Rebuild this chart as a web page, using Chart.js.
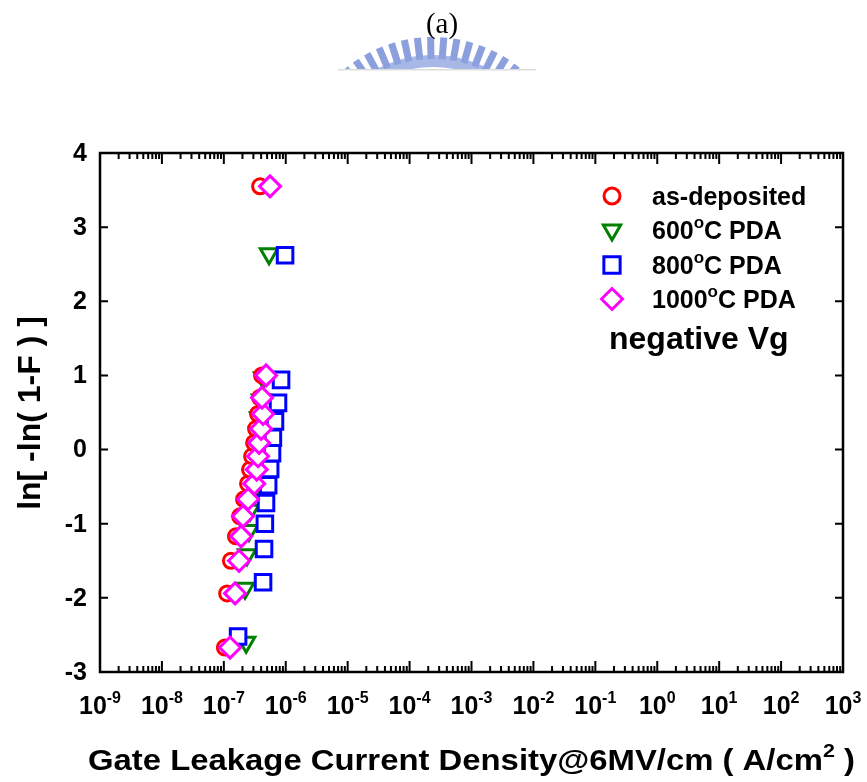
<!DOCTYPE html>
<html>
<head>
<meta charset="utf-8">
<script src="https://cdn.jsdelivr.net/npm/chart.js@4.4.1/dist/chart.umd.min.js"></script>
<style>
  html, body { margin: 0; padding: 0; background: #fff; }
  #wrap { width: 867px; height: 782px; }
</style>
</head>
<body>
<div id="wrap"><canvas id="weibullChart" width="867" height="782"></canvas></div>
<script>
// axis ticks
const xDecades = [-9, -8, -7, -6, -5, -4, -3, -2, -1, 0, 1, 2, 3];
const yTicks = [-3, -2, -1, 0, 1, 2, 3, 4];

// as-deposited
const asDepJ = [1.04e-7, 1.13e-7, 1.30e-7, 1.57e-7, 1.83e-7, 2.12e-7, 2.46e-7, 2.65e-7, 2.86e-7, 3.08e-7, 3.31e-7, 3.57e-7, 3.85e-7, 4.14e-7, 3.85e-7];
const asDepY = [-2.67, -1.94, -1.50, -1.17, -0.90, -0.67, -0.46, -0.27, -0.09, 0.09, 0.28, 0.48, 0.70, 1.00, 3.55];
// 600C PDA
const pda600J = [2.29e-7, 2.20e-7, 2.37e-7, 2.55e-7, 2.65e-7, 2.86e-7, 3.08e-7, 3.31e-7, 3.44e-7, 3.57e-7, 3.71e-7, 3.99e-7, 4.30e-7, 5.37e-7];
const pda600Y = [-2.60, -1.87, -1.42, -1.09, -0.82, -0.58, -0.37, -0.17, 0.03, 0.23, 0.43, 0.67, 0.97, 2.64];
// 800C PDA
const pda800J = [1.70e-7, 4.30e-7, 4.46e-7, 4.60e-7, 4.80e-7, 5.20e-7, 5.60e-7, 6.00e-7, 6.20e-7, 6.70e-7, 7.50e-7, 8.40e-7, 9.75e-7];
const pda800Y = [-2.52, -1.79, -1.34, -1.00, -0.72, -0.48, -0.26, -0.05, 0.16, 0.38, 0.63, 0.94, 2.62];
// 1000C PDA
const pda1000J = [1.26e-7, 1.52e-7, 1.76e-7, 1.90e-7, 2.04e-7, 2.46e-7, 3.10e-7, 3.40e-7, 3.57e-7, 3.71e-7, 3.99e-7, 4.30e-7, 4.14e-7, 4.81e-7, 5.57e-7];
const pda1000Y = [-2.67, -1.94, -1.50, -1.17, -0.90, -0.67, -0.46, -0.27, -0.09, 0.09, 0.28, 0.48, 0.70, 1.00, 3.55];

const seriesNames = ['as-deposited', '600', '800', '1000'];

const FONT = '"Liberation Sans", Arial, sans-serif';

function pts(xs, ys) {
    return xs.map((x, i) => ({ x: x, y: ys[i] }));
}

function ds(label, xs, ys, color, style, radius, rotation) {
    return {
        label: label,
        data: pts(xs, ys),
        showLine: false,
        pointStyle: style,
        pointRadius: radius,
        pointRotation: rotation || 0,
        pointBorderWidth: 3,
        pointBorderColor: color,
        pointBackgroundColor: '#fff'
    };
}

// index 0 is drawn on top
const datasets = [
    ds(seriesNames[3], pda1000J, pda1000Y, '#ff00ff', 'rectRot', 10.5),
    ds(seriesNames[0], asDepJ, asDepY, '#ff0000', 'circle', 7.5),
    ds(seriesNames[2], pda800J, pda800Y, '#0000ff', 'rect', 11),
    ds(seriesNames[1], pda600J, pda600Y, '#008000', 'triangle', 10, 180)
];

// text with raised parts, e.g. 10^-9 ; parts: [text, size, raise]
function supText(ctx, parts, x, y, align) {
    let w = 0;
    parts.forEach(p => { ctx.font = 'bold ' + p[1] + 'px ' + FONT; w += ctx.measureText(p[0]).width; });
    let cx = align === 'center' ? x - w / 2 : x;
    ctx.textAlign = 'left';
    ctx.textBaseline = 'alphabetic';
    parts.forEach(p => {
        ctx.font = 'bold ' + p[1] + 'px ' + FONT;
        ctx.fillText(p[0], cx, y - p[2]);
        cx += ctx.measureText(p[0]).width;
    });
    return w;
}

function partsWidth(ctx, parts) {
    let w = 0;
    parts.forEach(p => { ctx.font = 'bold ' + p[1] + 'px ' + FONT; w += ctx.measureText(p[0]).width; });
    return w;
}

const framePlugin = {
    id: 'weibullFrame',
    beforeDraw(chart) {
        const ctx = chart.ctx;
        ctx.save();
        ctx.fillStyle = '#fff';
        ctx.fillRect(0, 0, chart.width, chart.height);
        // watermark
        ctx.beginPath();
        ctx.rect(330, 0, 210, 70);
        ctx.clip();
        const cx = 433, cy = 175;
        ctx.fillStyle = 'rgb(168,184,230)';
        ctx.beginPath();
        ctx.arc(cx, cy, 120, Math.PI, 2 * Math.PI);
        ctx.arc(cx, cy, 108, 2 * Math.PI, Math.PI, true);
        ctx.fill();
        ctx.fillStyle = 'rgb(140,160,222)';
        for (let a = -45; a <= 45; a += 5.5) {
            ctx.save();
            ctx.translate(cx, cy);
            ctx.rotate(a * Math.PI / 180);
            ctx.fillRect(-3.5, -138, 7, 22);
            ctx.restore();
        }
        ctx.restore();
        ctx.save();
        ctx.fillStyle = '#ddd';
        ctx.fillRect(338, 69, 198, 1.5);
        ctx.fillStyle = '#000';
        ctx.font = '29px "Liberation Serif", "Times New Roman", serif';
        ctx.textAlign = 'center';
        ctx.fillText('(a)', 442, 33);
        ctx.restore();
    },
    beforeDatasetsDraw(chart) {
        const ctx = chart.ctx;
        const a = chart.chartArea;
        const xs = chart.scales.x, ys = chart.scales.y;
        ctx.save();
        ctx.strokeStyle = '#000';
        ctx.lineWidth = 2;
        ctx.beginPath();
        xDecades.forEach((d, i) => {
            const px = xs.getPixelForValue(Math.pow(10, d));
            ctx.moveTo(px, a.bottom); ctx.lineTo(px, a.bottom - 11);
            ctx.moveTo(px, a.top); ctx.lineTo(px, a.top + 11);
            if (i < xDecades.length - 1) {
                for (let m = 2; m <= 9; m++) {
                    const mx = xs.getPixelForValue(m * Math.pow(10, d));
                    ctx.moveTo(mx, a.bottom); ctx.lineTo(mx, a.bottom - 6);
                    ctx.moveTo(mx, a.top); ctx.lineTo(mx, a.top + 6);
                }
            }
        });
        yTicks.forEach(v => {
            const py = ys.getPixelForValue(v);
            ctx.moveTo(a.left, py); ctx.lineTo(a.left + 8, py);
            ctx.moveTo(a.right, py); ctx.lineTo(a.right - 8, py);
        });
        ctx.stroke();
        ctx.lineWidth = 2.5;
        ctx.strokeRect(a.left, a.top, a.right - a.left, a.bottom - a.top);
        ctx.restore();
    },
    afterDraw(chart) {
        const ctx = chart.ctx;
        const a = chart.chartArea;
        const xs = chart.scales.x, ys = chart.scales.y;
        ctx.save();
        ctx.fillStyle = '#000';
        // x tick labels
        xDecades.forEach(d => {
            const px = xs.getPixelForValue(Math.pow(10, d));
            supText(ctx, [['10', 25, 0], [String(d), 16, 11]], px, 714, 'center');
        });
        // y tick labels
        ctx.font = 'bold 25px ' + FONT;
        ctx.textAlign = 'right';
        ctx.textBaseline = 'middle';
        yTicks.forEach(v => {
            ctx.fillText(String(v), a.left - 13, ys.getPixelForValue(v) + 1);
        });
        // x title, stretched to the reference width
        const xt = [['Gate Leakage Current Density@6MV/cm ( A/cm', 29, 0], ['2', 19, 13], [' )', 29, 0]];
        const tw = partsWidth(ctx, xt);
        ctx.save();
        ctx.translate(88, 0);
        ctx.scale(767 / tw, 1);
        supText(ctx, xt, 0, 770, 'left');
        ctx.restore();
        // y title
        ctx.save();
        ctx.translate(40, 413);
        ctx.rotate(-Math.PI / 2);
        ctx.font = 'bold 32px ' + FONT;
        ctx.textAlign = 'center';
        ctx.textBaseline = 'alphabetic';
        ctx.fillText('ln[ -ln( 1-F ) ]', 0, 0);
        ctx.restore();
        // legend
        const rows = [
            { color: '#ff0000', style: 'circle', r: 8, rot: 0, y: 196, text: [['as-deposited', 25, 0]] },
            { color: '#008000', style: 'triangle', r: 10, rot: 180, y: 230, text: [['600', 25, 0], ['o', 17, 11], ['C PDA', 25, 0]] },
            { color: '#0000ff', style: 'rect', r: 11.5, rot: 0, y: 265, text: [['800', 25, 0], ['o', 17, 11], ['C PDA', 25, 0]] },
            { color: '#ff00ff', style: 'rectRot', r: 10.5, rot: 0, y: 299, text: [['1000', 25, 0], ['o', 17, 11], ['C PDA', 25, 0]] }
        ];
        rows.forEach(r => {
            ctx.strokeStyle = r.color;
            ctx.fillStyle = '#fff';
            ctx.lineWidth = 3;
            Chart.helpers.drawPoint(ctx, { pointStyle: r.style, radius: r.r, rotation: r.rot, borderWidth: 3 }, 612, r.y);
            ctx.fillStyle = '#000';
            supText(ctx, r.text, 652, r.y + 9, 'left');
        });
        supText(ctx, [['negative Vg', 32, 0]], 609, 349, 'left');
        ctx.restore();
    }
};

const chart = new Chart(document.getElementById('weibullChart').getContext('2d'), {
    type: 'scatter',
    data: { datasets: datasets },
    options: {
        responsive: false,
        animation: false,
        events: [],
        layout: { padding: { left: 100, right: 24, top: 153, bottom: 110 } },
        scales: {
            x: { type: 'logarithmic', min: 1e-9, max: 1e3, display: false },
            y: { type: 'linear', min: -3, max: 4, display: false }
        },
        plugins: { legend: { display: false }, tooltip: { enabled: false } }
    },
    plugins: [framePlugin]
});
</script>
</body>
</html>
